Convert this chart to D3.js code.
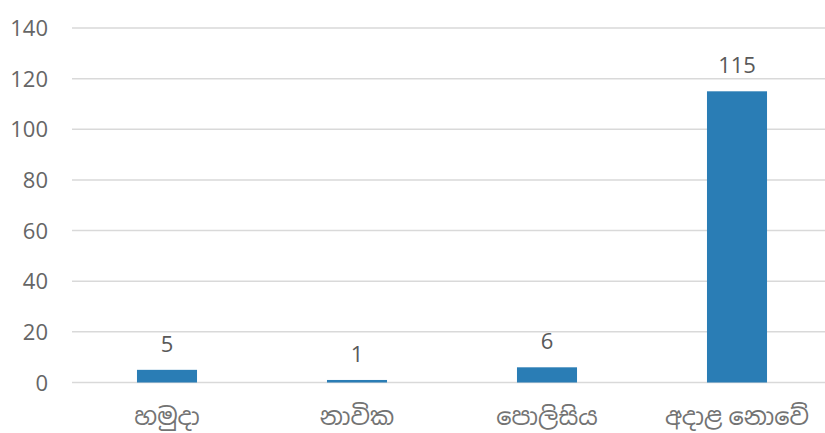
<!DOCTYPE html>
<html>
<head>
<meta charset="utf-8">
<script src="https://cdn.jsdelivr.net/npm/d3@7"></script>
<style>
  body { margin: 0; background: #fff; }
  svg text { font-family: "Open Sans", "Noto Sans", "Noto Sans Sinhala", sans-serif; fill: #595959; }
</style>
</head>
<body>
<div id="chart"></div>
<script>
var categories = ["හමුදා", "නාවික", "පොලිසිය", "අදාළ නොවේ"];
var values = [5, 1, 6, 115];
var yTicks = [0, 20, 40, 60, 80, 100, 120, 140];

var width = 825, height = 433;
var svg = d3.select("#chart").append("svg")
    .attr("width", width)
    .attr("height", height);

// x bands, one per category
var x = d3.scaleBand()
    .domain(categories)
    .range([72, 832])
    .padding(0);
var barW = x.bandwidth() * 0.316;

var y = d3.scaleLinear()
    .domain([0, 140])
    .range([382.5, 28]);

// gridlines
svg.append("g")
    .selectAll("line")
    .data(yTicks)
    .enter()
    .append("line")
    .attr("x1", 72)
    .attr("x2", 832)
    .attr("y1", function (d) { return y(d); })
    .attr("y2", function (d) { return y(d); })
    .attr("stroke", "#d9d9d9")
    .attr("stroke-width", 1.5);

// y axis labels
var yAxis = svg.append("g")
    .attr("transform", "translate(48,0)")
    .call(d3.axisLeft(y).tickValues(yTicks).tickSize(0).tickPadding(0));
yAxis.select(".domain").remove();
yAxis.selectAll("text")
    .style("font-size", "22px")
    .attr("dy", "0.35em")
    .style("fill", "#666666");

// bars
svg.selectAll("rect.bar")
    .data(values)
    .enter()
    .append("rect")
    .attr("class", "bar")
    .attr("x", function (d, i) { return x(categories[i]) + (x.bandwidth() - barW) / 2; })
    .attr("width", barW)
    .attr("y", function (d) { return y(d); })
    .attr("height", function (d) { return y(0) - y(d); })
    .attr("fill", "#2a7db5");

// value labels
svg.selectAll("text.val")
    .data(values)
    .enter()
    .append("text")
    .attr("class", "val")
    .attr("x", function (d, i) { return x(categories[i]) + x.bandwidth() / 2; })
    .attr("y", function (d) { return y(d) - 18; })
    .attr("text-anchor", "middle")
    .style("font-size", "22px")
    .text(function (d) { return d; });

// category labels
var xAxis = svg.append("g")
    .attr("transform", "translate(0," + y(0) + ")")
    .call(d3.axisBottom(x).tickSize(0).tickPadding(0));
xAxis.select(".domain").remove();
xAxis.selectAll("text")
    .attr("dy", null)
    .attr("y", 42)
    .style("fill", "#737373")
    .style("font-size", "24px");
</script>
</body>
</html>
